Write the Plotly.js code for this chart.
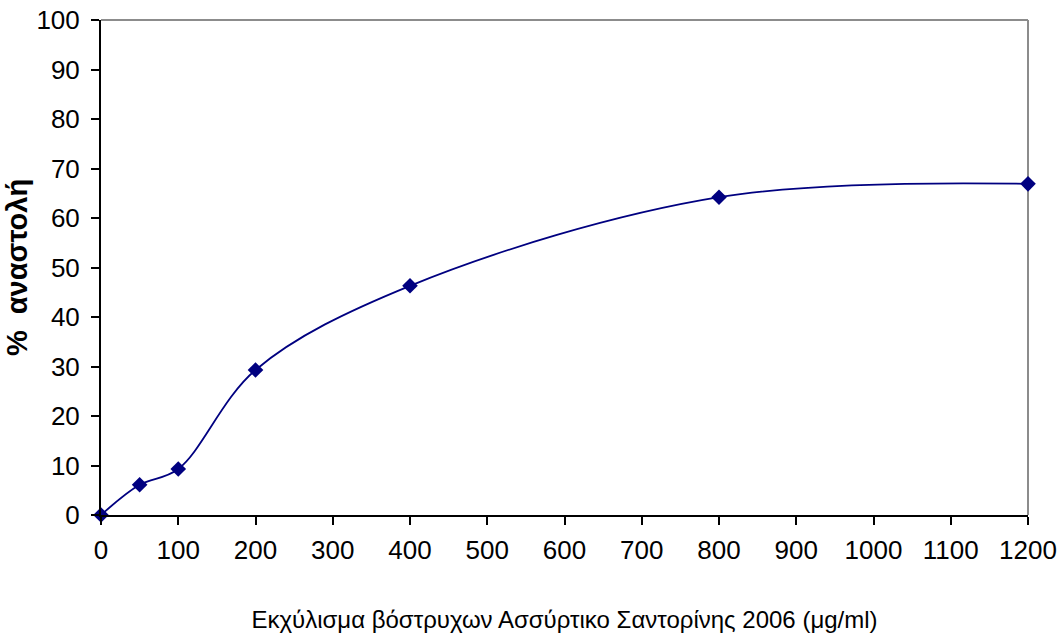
<!DOCTYPE html>
<html>
<head>
<meta charset="utf-8">
<script src="https://cdn.plot.ly/plotly-3.0.1.min.js"></script>
<style>html,body{margin:0;padding:0;background:#fff;}#chart{width:1057px;height:641px;}</style>
</head>
<body>
<div id="chart"></div>
<script>
const concentrations = [0, 50, 100, 200, 400, 800, 1200];
const inhibition = [0, 6.1, 9.3, 29.3, 46.3, 64.2, 66.9];
const xTitle = 'Εκχύλισμα βόστρυχων Ασσύρτικο Σαντορίνης 2006 (μg/ml)';
const yTitle = '%  αναστολή';

const trace = {
  x: concentrations,
  y: inhibition,
  type: 'scatter',
  mode: 'lines+markers',
  line: {shape: 'spline', smoothing: 1, color: '#000080', width: 1.8},
  marker: {symbol: 'diamond', size: 12, color: '#000080'},
  cliponaxis: false,
  hoverinfo: 'x+y'
};

const tickFont = {family: '"Liberation Sans Narrow", "Arial Narrow", "Liberation Sans", sans-serif', size: 26, color: '#000'};

const layout = {
  width: 1057,
  height: 641,
  margin: {l: 101, r: 29, t: 20, b: 126},
  paper_bgcolor: '#fff',
  plot_bgcolor: '#fff',
  showlegend: false,
  xaxis: {
    range: [0, 1200],
    tickmode: 'linear', tick0: 0, dtick: 100,
    showgrid: false, zeroline: false,
    showline: true, linecolor: '#000', linewidth: 2,
    ticks: 'outside', ticklen: 8, tickwidth: 2, tickcolor: '#000',
    ticklabelstandoff: 3,
    tickfont: tickFont,
    title: {text: xTitle, font: {family: '"Liberation Sans Narrow", "Arial Narrow", "Liberation Sans", sans-serif', size: 24, color: '#000'}, standoff: 47}
  },
  yaxis: {
    range: [0, 100],
    tickmode: 'linear', tick0: 0, dtick: 10,
    showgrid: false, zeroline: false,
    showline: true, linecolor: '#000', linewidth: 2,
    ticks: 'outside', ticklen: 8, tickwidth: 2, tickcolor: '#000',
    ticklabelstandoff: 6,
    tickfont: tickFont,
    title: {text: yTitle, font: {family: '"Liberation Sans", Arial, sans-serif', size: 29, color: '#000', weight: 'bold'}, standoff: 0}
  },
  shapes: [
    {type: 'line', xref: 'paper', yref: 'paper', x0: 0, x1: 1, y0: 1, y1: 1, line: {color: '#8c8c8c', width: 2}, layer: 'below'},
    {type: 'line', xref: 'paper', yref: 'paper', x0: 1, x1: 1, y0: 0, y1: 1, line: {color: '#8c8c8c', width: 2}, layer: 'below'}
  ]
};

Plotly.newPlot('chart', [trace], layout, {displayModeBar: false, staticPlot: true});
</script>
</body>
</html>
